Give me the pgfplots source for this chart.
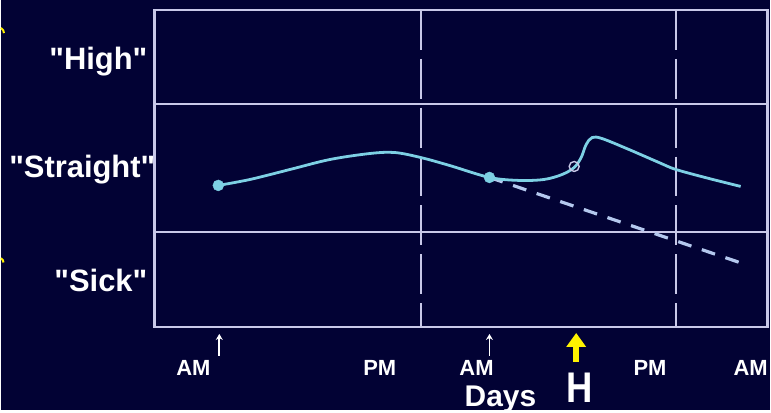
\documentclass[border=0pt]{standalone}
\usepackage{pgfplots}
\pgfplotsset{compat=1.18}
\usetikzlibrary{arrows.meta}
\usepackage{fontspec}
\setmainfont{Liberation Sans}[Ligatures=TeXOff]
\definecolor{bg}{RGB}{2,2,52}
\definecolor{gridc}{RGB}{200,200,232}
\definecolor{curve}{RGB}{125,208,228}
\definecolor{dashc}{RGB}{180,200,238}
\begin{document}
\begin{tikzpicture}[x=1pt,y=1pt]
\fill[bg] (0,0) rectangle (771,411);
\begin{axis}[at={(154pt,83pt)}, anchor=south west, scale only axis,
  width=615pt, height=318pt, xmin=154, xmax=769, ymin=0, ymax=318,
  clip=false, axis line style={gridc, line width=2.3pt},
  xtick={193,380,477,651,752}, xticklabels={AM,PM,AM,PM,AM},
  ytick=\empty, major tick length=0pt,
  xticklabel style={font=\bfseries\fontsize{22}{22}\selectfont, text=white, anchor=base, yshift=-49pt},
  ]
% grid
\draw[gridc, line width=2.3pt] (axis cs:154,224) -- (axis cs:769,224);
\draw[gridc, line width=2.3pt] (axis cs:154,95) -- (axis cs:769,95);
\draw[gridc, line width=2.3pt, dash pattern=on 40pt off 9pt] (axis cs:421,318) -- (axis cs:421,0);
\draw[gridc, line width=2.3pt, dash pattern=on 40pt off 9pt] (axis cs:677,318) -- (axis cs:677,0);
% dashed projection
\addplot[dashc, line width=3.2pt, dash pattern=on 14pt off 11pt] coordinates {(490,150) (740,65)};
% curve
\addplot[curve, line width=2.8pt, smooth, tension=0.55] coordinates {
(218,142) (250,148) (290,158) (330,168) (370,174) (395,175) (421,170)
(450,162) (490,150) (520,147) (545,148) (563,153) (575,160) (582,170)
(587,183) (593,190) (603,189) (630,178) (660,165) (677,158) (710,149) (742,141)};
\addplot[only marks, mark=*, mark size=5.5pt, curve] coordinates {(218,142) (490,150)};
\addplot[only marks, mark=o, mark size=5pt, mark options={draw=gridc, fill=bg, line width=1.4pt}] coordinates {(575,161)};
% labels
\node[anchor=base east, text=white, font=\bfseries\fontsize{31}{31}\selectfont, inner sep=0pt] at (axis cs:147,258) {"High"};
\node[anchor=base east, text=white, font=\bfseries\fontsize{31}{31}\selectfont, inner sep=0pt] at (axis cs:155,150) {"Straight"};
\node[anchor=base east, text=white, font=\bfseries\fontsize{31}{31}\selectfont, inner sep=0pt] at (axis cs:147,36) {"Sick"};
\node[anchor=base, text=white, font=\bfseries\fontsize{30}{30}\selectfont, inner sep=0pt] at (axis cs:501,-80) {Days};
\node[anchor=base, text=white, font=\bfseries\fontsize{43}{43}\selectfont, inner sep=0pt, xscale=0.85] at (axis cs:580,-76) {H};
% arrows
\draw[white, line width=1.8pt, -{Stealth[length=6pt,width=7pt]}] (axis cs:219,-29) -- (axis cs:219,-7);
\draw[white, line width=1.8pt, -{Stealth[length=6pt,width=7pt]}] (axis cs:490,-29) -- (axis cs:490,-7);
\draw[yellow, line width=6pt, -{Triangle[length=14pt,width=19pt]}] (axis cs:577,-35) -- (axis cs:577,-6);
\end{axis}
\draw[yellow, line width=2pt] (0,383) arc (60:0:6);
\draw[yellow, line width=2pt] (0,152) arc (60:0:5);
\end{tikzpicture}
\end{document}
